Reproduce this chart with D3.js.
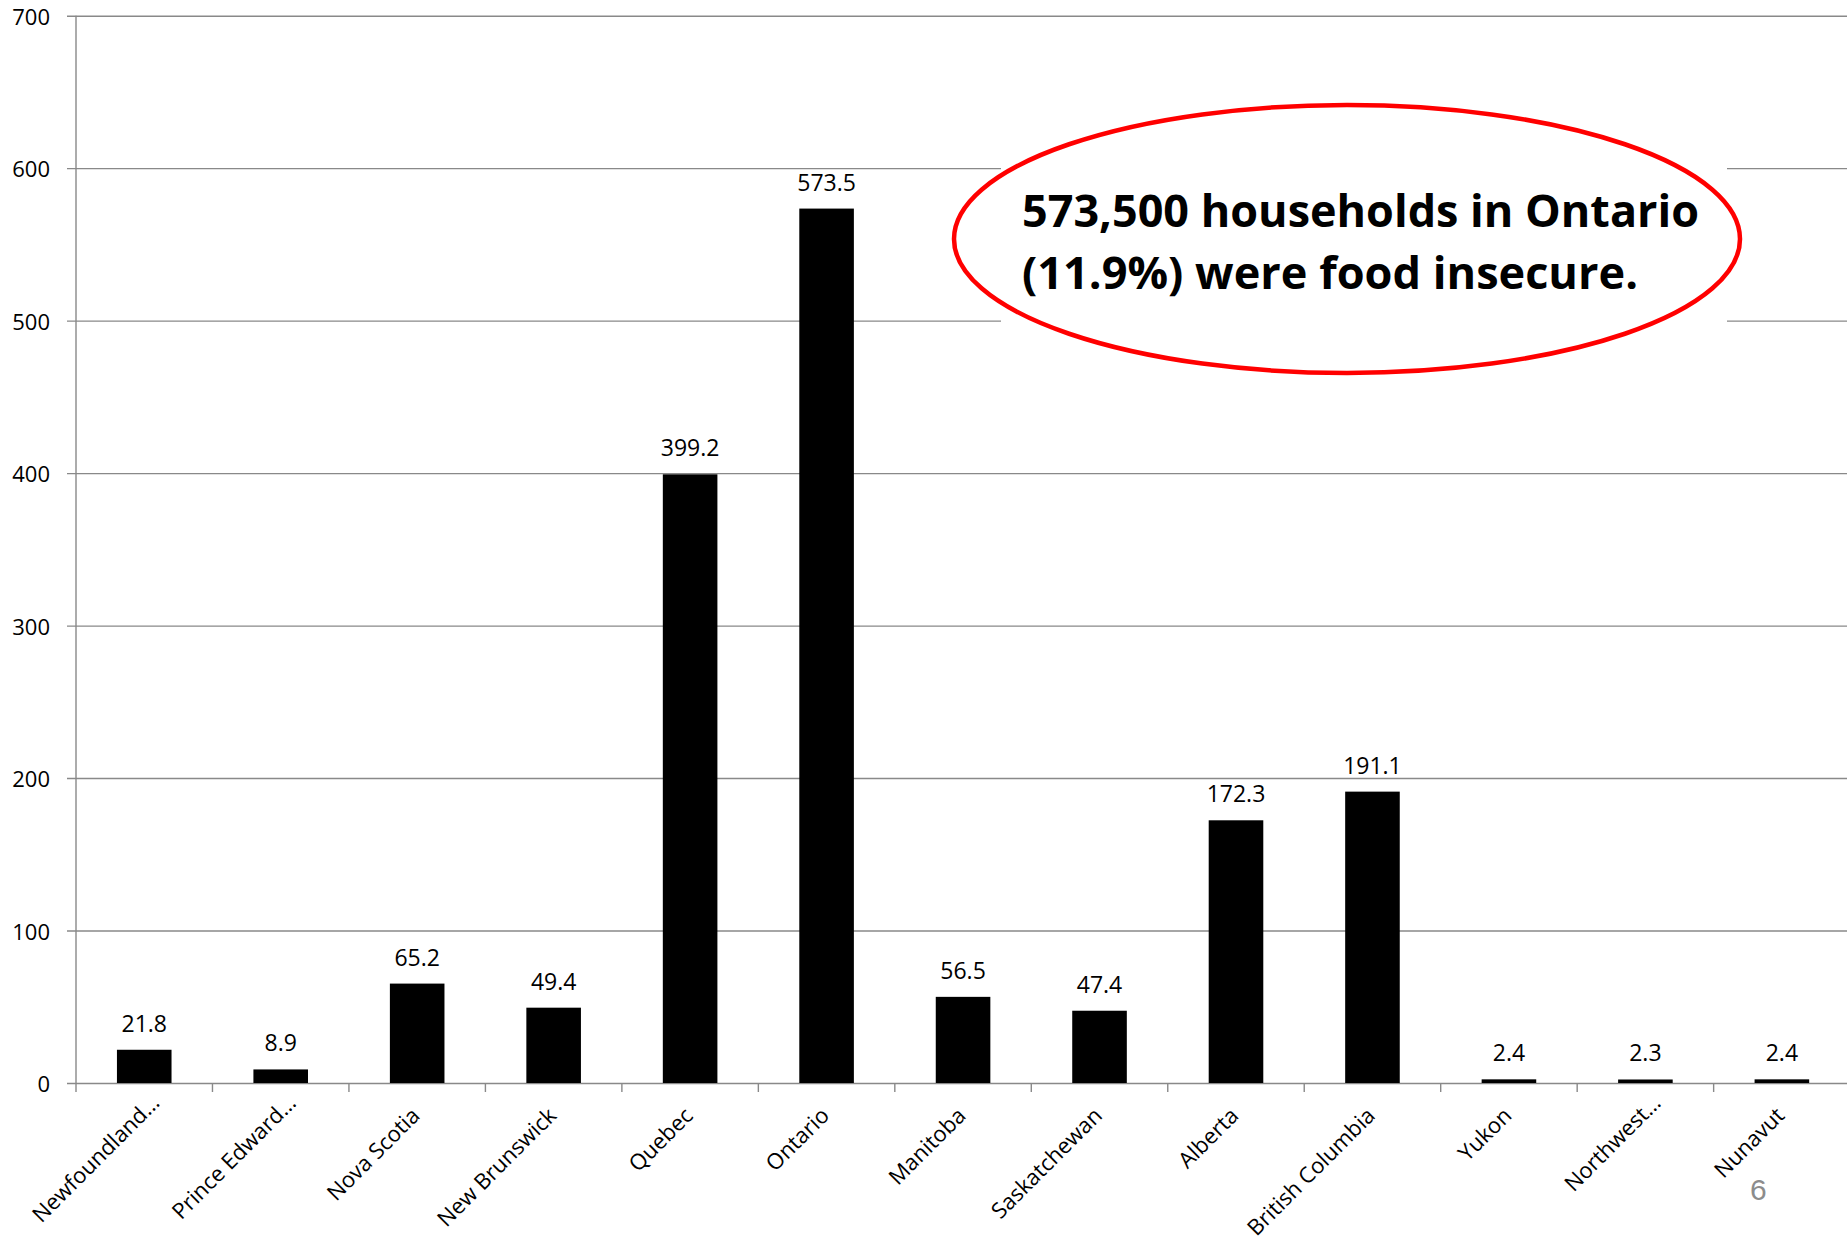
<!DOCTYPE html>
<html>
<head>
<meta charset="utf-8">
<script src="https://cdn.jsdelivr.net/npm/d3@7"></script>
<style>
  html, body { margin: 0; padding: 0; background: #fff; }
  svg { display: block; }
</style>
</head>
<body>
<svg id="chart" width="1847" height="1243"></svg>
<script>
// ---- Data ----
const categories = ["Newfoundland…", "Prince Edward…", "Nova Scotia", "New Brunswick", "Quebec", "Ontario",
  "Manitoba", "Saskatchewan", "Alberta", "British Columbia", "Yukon", "Northwest…", "Nunavut"];
const values = [21.8, 8.9, 65.2, 49.4, 399.2, 573.5, 56.5, 47.4, 172.3, 191.1, 2.4, 2.3, 2.4];
const valueLabels = ["21.8", "8.9", "65.2", "49.4", "399.2", "573.5", "56.5", "47.4", "172.3", "191.1", "2.4", "2.3", "2.4"];
const yTicks = [0, 100, 200, 300, 400, 500, 600, 700];
const annotationLines = ["573,500 households in Ontario", "(11.9%) were food insecure."];
const pageNumber = "6";

// ---- Layout ----
const W = 1847, H = 1243;
const axisX = 76, gridStart = 67;
const yBottom = 1083, yTop = 15.7;
const step = 136.47;
const plotRight = axisX + categories.length * step;
const gridColor = "#898989";
const font = "'Open Sans', 'DejaVu Sans', sans-serif";

const svg = d3.select("#chart");

const y = d3.scaleLinear().domain([0, 700]).range([yBottom, yTop]);
const xBar = d3.scaleBand().domain(categories).range([axisX, plotRight]).paddingInner(0.6).paddingOuter(0.3);
const xCat = d3.scaleBand().domain(categories).range([axisX, plotRight]).padding(0);

// Gridlines + y tick labels
const yAxis = d3.axisLeft(y).tickValues(yTicks).tickSizeInner(-(W - gridStart)).tickSizeOuter(0).tickPadding(17);
const gY = svg.append("g").attr("transform", `translate(${gridStart},0)`).call(yAxis);
gY.select(".domain").remove();
gY.selectAll(".tick line").attr("stroke", gridColor).attr("stroke-width", 1.4);
gY.selectAll(".tick text").attr("font-family", font).attr("font-size", 22).attr("fill", "#000")
  .attr("dy", null).attr("y", 8.5);

// Y axis line
svg.append("line").attr("x1", axisX).attr("x2", axisX).attr("y1", yTop).attr("y2", yBottom)
  .attr("stroke", gridColor).attr("stroke-width", 1.4);

// X axis boundary ticks
const boundaries = categories.map(c => xCat(c)).concat([plotRight]);
svg.append("g").selectAll("line").data(boundaries).join("line")
  .attr("x1", d => d).attr("x2", d => d).attr("y1", yBottom).attr("y2", yBottom + 9)
  .attr("stroke", gridColor).attr("stroke-width", 1.4);

// Annotation background box (hides gridlines)
svg.append("rect").attr("x", 1001).attr("y", 104).attr("width", 1727 - 1001).attr("height", 270).attr("fill", "#fff");

// Bars
svg.append("g").selectAll("rect").data(values).join("rect")
  .attr("x", (d, i) => xBar(categories[i]))
  .attr("width", xBar.bandwidth())
  .attr("y", d => y(d))
  .attr("height", d => yBottom - y(d))
  .attr("fill", "#000");

// Value labels
svg.append("g").selectAll("text").data(values).join("text")
  .attr("x", (d, i) => xCat(categories[i]) + xCat.bandwidth() / 2)
  .attr("y", d => y(d) - 18)
  .attr("text-anchor", "middle")
  .attr("font-family", font).attr("font-size", 23).attr("fill", "#000")
  .text((d, i) => valueLabels[i]);

// Category labels rotated
svg.append("g").selectAll("text").data(categories).join("text")
  .attr("transform", d => `translate(${xCat(d) + xCat.bandwidth() / 2 + 4},${yBottom + 34}) rotate(-45)`)
  .attr("dx", d => d.endsWith("…") ? 18 : 0)
  .attr("text-anchor", "end")
  .attr("font-family", font).attr("font-size", 22).attr("fill", "#000")
  .text(d => d);

// Annotation ellipse
svg.append("ellipse").attr("cx", 1347).attr("cy", 239).attr("rx", 393).attr("ry", 134)
  .attr("fill", "none").attr("stroke", "#ff0000").attr("stroke-width", 4.5);

const annWidths = [677, 616];
const annBase = [227, 289];
svg.append("g").selectAll("text").data(annotationLines).join("text")
  .attr("x", 1022).attr("y", (d, i) => annBase[i])
  .attr("font-family", font).attr("font-weight", "bold").attr("font-size", 45).attr("fill", "#000")
  .attr("textLength", (d, i) => annWidths[i]).attr("lengthAdjust", "spacingAndGlyphs")
  .text(d => d);

// Page number
svg.append("text").attr("x", 1750).attr("y", 1200)
  .attr("font-family", "'Liberation Sans', Arial, sans-serif").attr("font-size", 30).attr("fill", "#8c8c8c")
  .text(pageNumber);
</script>
</body>
</html>
